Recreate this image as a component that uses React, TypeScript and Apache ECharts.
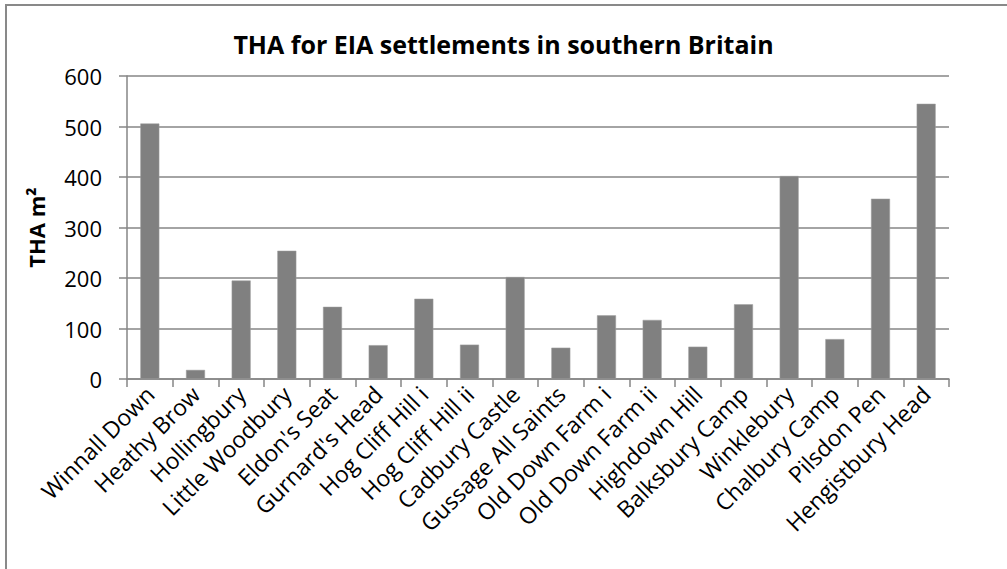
import React, { useEffect, useRef } from "react";
import * as echarts from "echarts";

const categories = [
  "Winnall Down", "Heathy Brow", "Hollingbury", "Little Woodbury", "Eldon's Seat",
  "Gurnard's Head", "Hog Cliff Hill i", "Hog Cliff Hill ii", "Cadbury Castle",
  "Gussage All Saints", "Old Down Farm i", "Old Down Farm ii", "Highdown Hill",
  "Balksbury Camp", "Winklebury", "Chalbury Camp", "Pilsdon Pen", "Hengistbury Head",
];
const thaValues = [506, 18, 195, 254, 143, 67, 159, 68, 202, 62, 126, 117, 64, 148, 402, 79, 357, 545];
const yTicks = { min: 0, max: 600, interval: 100 };

const FONT = "Open Sans";

export default function App() {
  const ref = useRef<HTMLDivElement>(null);
  useEffect(() => {
    if (!ref.current) return;
    const chart = echarts.init(ref.current, undefined, { renderer: "svg" });
    chart.setOption({
      animation: false,
      backgroundColor: "#fff",
      title: {
        text: "THA for EIA settlements in southern Britain",
        left: "center",
        top: 26,
        textStyle: { fontFamily: FONT, fontSize: 25, fontWeight: "bold", color: "#000" },
      },
      graphic: [
        {
          type: "rect",
          shape: { x: 6, y: 5, width: 1010, height: 600 },
          style: { fill: "none", stroke: "#898989", lineWidth: 2 },
          silent: true,
        },
      ],
      grid: { left: 127, right: 58, top: 76, bottom: 190, containLabel: false },
      xAxis: {
        type: "category",
        data: categories,
        axisLine: { lineStyle: { color: "#868686", width: 1.5 } },
        axisTick: { show: true, length: 8, lineStyle: { color: "#868686", width: 1.5 } },
        axisLabel: {
          rotate: 45,
          interval: 0,
          margin: 11,
          fontFamily: FONT,
          fontSize: 23,
          color: "#000",
        },
      },
      yAxis: {
        type: "value",
        min: yTicks.min,
        max: yTicks.max,
        interval: yTicks.interval,
        name: "THA m²",
        nameLocation: "middle",
        nameGap: 80,
        nameTextStyle: { fontFamily: FONT, fontSize: 22, fontWeight: "bold", color: "#000" },
        axisLine: { show: true, lineStyle: { color: "#868686", width: 1.5 } },
        axisTick: { show: true, length: 8, lineStyle: { color: "#868686", width: 1.5 } },
        splitLine: { lineStyle: { color: "#868686", width: 1.5 } },
        axisLabel: { fontFamily: FONT, fontSize: 22, color: "#000", margin: 25 },
      },
      series: [
        {
          type: "bar",
          data: thaValues,
          barWidth: 19,
          itemStyle: { color: "#808080", borderColor: "#a0a0a0", borderWidth: 0.5 },
        },
      ],
    });
    return () => chart.dispose();
  }, []);
  return (
    <div
      ref={ref}
      style={{ position: "fixed", left: 0, top: 0, width: 1007, height: 569 }}
    />
  );
}
